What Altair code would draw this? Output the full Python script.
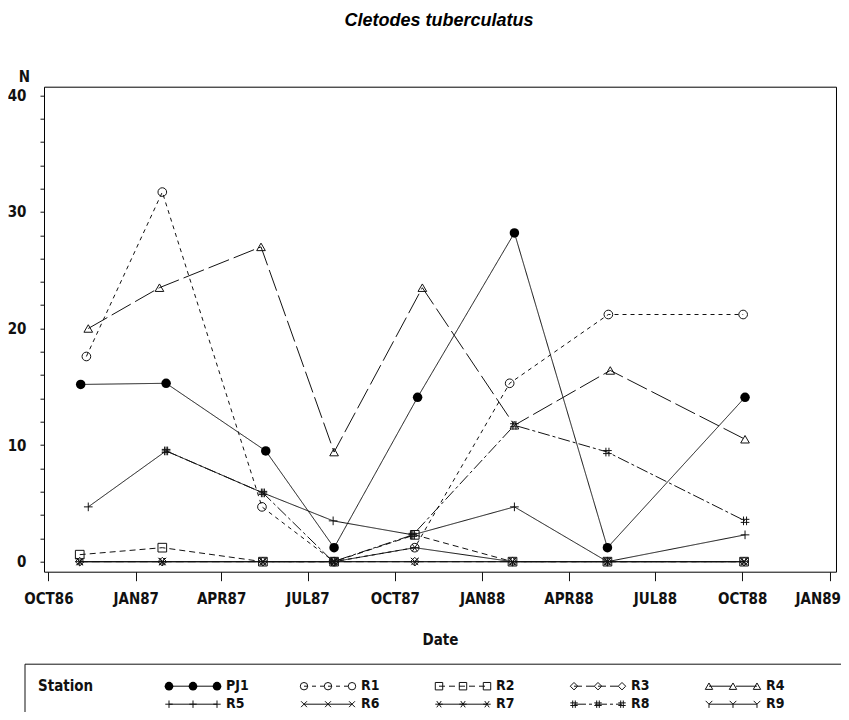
import altair as alt
import pandas as pd

# ---------------- data ----------------
stations = ["PJ1", "R1", "R2", "R3", "R4", "R5", "R6", "R7", "R8", "R9"]

dates_pj1 = ["1986-11-04", "1987-02-02", "1987-05-18", "1987-07-29",
             "1987-10-25", "1988-02-04", "1988-05-12", "1988-10-04"]
dates_r1 = ["1986-11-10", "1987-01-29", "1987-05-14", "1987-07-29",
            "1987-10-22", "1988-01-30", "1988-05-13", "1988-10-02"]
dates_r4 = ["1986-11-12", "1987-01-26", "1987-05-13", "1987-07-29",
            "1987-10-30", "1988-02-04", "1988-05-15", "1988-10-04"]
dates_r5 = ["1986-11-12", "1987-02-02", "1987-05-15", "1987-07-28",
            "1987-10-20", "1988-02-04", "1988-05-12", "1988-10-04"]
dates_low = ["1986-11-03", "1987-01-29", "1987-05-15", "1987-07-29",
             "1987-10-22", "1988-02-02", "1988-05-12", "1988-10-03"]

n_pj1 = [15.2, 15.3, 9.5, 1.2, 14.1, 28.2, 1.2, 14.1]
n_r1 = [17.6, 31.7, 4.7, 0.0, 1.2, 15.3, 21.2, 21.2]
n_r2 = [0.6, 1.2, 0.0, 0.0, 2.3, 0.0, 0.0, 0.0]
n_r3 = [0.0, 0.0, 0.0, 0.0, 0.0, 0.0, 0.0, 0.0]
n_r4 = [20.0, 23.5, 27.0, 9.4, 23.5, 11.7, 16.4, 10.5]
n_r5 = [4.7, 9.5, 5.9, 3.5, 2.3, 4.7, 0.0, 2.3]
n_r6 = [0.0, 0.0, 0.0, 0.0, 0.0, 0.0, 0.0, 0.0]
n_r7 = [0.0, 0.0, 0.0, 0.0, 1.2, 0.0, 0.0, 0.0]
n_r8 = [None, 9.5, 5.9, 0.0, 2.3, 11.7, 9.4, 3.5]
n_r9 = [0.0, 0.0, 0.0, 0.0, 0.0, 0.0, 0.0, 0.0]

series = {
    "PJ1": (dates_pj1, n_pj1),
    "R1": (dates_r1, n_r1),
    "R2": (dates_low, n_r2),
    "R3": (dates_low, n_r3),
    "R4": (dates_r4, n_r4),
    "R5": (dates_r5, n_r5),
    "R6": (dates_low, n_r6),
    "R7": (dates_low, n_r7),
    "R8": (dates_r5, n_r8),
    "R9": (dates_low, n_r9),
}

rows = []
for st in stations:
    ds, vs = series[st]
    for d, v in zip(ds, vs):
        if v is not None:
            rows.append({"station": st, "date": d, "n": v})
df = pd.DataFrame(rows)

tick_dates = [(1986, 10), (1987, 1), (1987, 4), (1987, 7), (1987, 10),
              (1988, 1), (1988, 4), (1988, 7), (1988, 10), (1989, 1)]

# ---------------- styles ----------------
FONT = "Liberation Sans Narrow, DejaVu Sans Condensed, sans-serif"
INK = "#111111"

shapes = [
    "circle", "circle", "square", "diamond", "triangle-up",
    "M-1,0L1,0M0,-1L0,1",
    "M-0.8,-0.8L0.8,0.8M-0.8,0.8L0.8,-0.8",
    "M-1,0L1,0M-0.6,-0.85L0.6,0.85M-0.6,0.85L0.6,-0.85",
    "M-0.35,-1L-0.35,1M0.35,-1L0.35,1M-1,-0.35L1,-0.35M-1,0.35L1,0.35",
    "M0,0L0,1M0,0L-0.9,-0.9M0,0L0.9,-0.9",
]
dashes = [[1, 0], [4, 4], [6, 4], [8, 4], [22, 5],
          [1, 0], [1, 0], [1, 0], [12, 3, 3, 3], [1, 0]]

shape_scale = alt.Scale(domain=stations, range=shapes)
dash_scale = alt.Scale(domain=stations, range=dashes)

W, H = 792, 485

x_enc = alt.X(
    "date:T",
    scale=alt.Scale(
        type="utc", nice=False,
        domain=[alt.DateTime(year=1986, month=9, date=26, hours=8, minutes=30, utc=True),
                alt.DateTime(year=1989, month=1, date=7, hours=20, utc=True)]),
    axis=alt.Axis(
        values=[alt.DateTime(year=y, month=m, date=1, utc=True) for y, m in tick_dates],
        labelExpr="upper(utcFormat(datum.value, '%b%y'))",
        labelAlign={"condition": {"test": "datum.value > utc(1988, 11, 1)", "value": "right"},
                    "value": "center"},
        labelOffset={"condition": {"test": "datum.value > utc(1988, 11, 1)", "value": 11},
                     "value": 0},
        title="Date", titleY=68, titleBaseline="middle",
        tickSize=9, labelPadding=11, domain=False, grid=False),
)
y_enc = alt.Y(
    "n:Q",
    scale=alt.Scale(domain=[-0.86, 40.74], nice=False, zero=False),
    axis=alt.Axis(
        values=list(range(0, 41, 2)),
        labelExpr="datum.value % 10 == 0 ? datum.value : ''",
        title="N", titleAngle=0, titleX=-20, titleY=-10,
        titleAlign="center", titleBaseline="middle",
        tickSize=4, labelPadding=14, domain=False, grid=False),
)

base = alt.Chart(df)
lines = base.mark_line(color=INK, strokeWidth=1).encode(
    x=x_enc, y=y_enc, detail="station:N",
    strokeDash=alt.StrokeDash("station:N", scale=dash_scale, legend=None),
    order="date:T",
)
open_pts = base.transform_filter("datum.station != 'PJ1'").mark_point(
    filled=False, color=INK, strokeWidth=1, size=75, opacity=1
).encode(
    x=x_enc, y=y_enc,
    shape=alt.Shape("station:N", scale=shape_scale, legend=None),
)
pj1_pts = base.transform_filter("datum.station == 'PJ1'").mark_point(
    filled=True, shape="circle", color="#000000", size=90, opacity=1
).encode(x=x_enc, y=y_enc)

main = alt.layer(lines, open_pts, pj1_pts)

# ---------------- legend (drawn) ----------------
X0, DX, DK, TXO = 125, 135, 24, 57
Y0, DY = 599.5, 18

leg_rows = []
for i, st in enumerate(stations):
    for k in range(3):
        leg_rows.append({"station": st, "row": i // 5, "col": i % 5, "k": k})
leg_df = pd.DataFrame(leg_rows)
leg_base = alt.Chart(leg_df).transform_calculate(
    px=f"{X0} + datum.col*{DX} + datum.k*{DK}",
    py=f"{Y0} + datum.row*{DY}",
)
lx = alt.X("px:Q", scale=None, axis=None)
ly = alt.Y("py:Q", scale=None, axis=None)

leg_lines = leg_base.mark_line(color=INK, strokeWidth=1).encode(
    x=lx, y=ly, detail="station:N",
    strokeDash=alt.StrokeDash("station:N", scale=dash_scale, legend=None),
)
leg_open = leg_base.transform_filter("datum.station != 'PJ1'").mark_point(
    filled=False, color=INK, strokeWidth=1, size=55, opacity=1
).encode(x=lx, y=ly, shape=alt.Shape("station:N", scale=shape_scale, legend=None))
leg_pj1 = leg_base.transform_filter("datum.station == 'PJ1'").mark_point(
    filled=True, shape="circle", color="#000000", size=75, opacity=1
).encode(x=lx, y=ly)

txt_df = pd.DataFrame({"station": stations,
                       "row": [i // 5 for i in range(10)],
                       "col": [i % 5 for i in range(10)]})
leg_text = alt.Chart(txt_df).transform_calculate(
    px=f"{X0} + datum.col*{DX} + {TXO}",
    py=f"{Y0} + datum.row*{DY}",
).mark_text(align="left", baseline="middle", font=FONT, fontSize=14,
            fontWeight="bold", color=INK).encode(x=lx, y=ly, text="station:N")

head_df = pd.DataFrame({"label": ["Station"]})
leg_head = alt.Chart(head_df).mark_text(
    align="left", baseline="middle", font=FONT, fontSize=15,
    fontWeight="bold", color=INK
).encode(x=alt.value(-6), y=alt.value(Y0), text="label:N")

box_df = pd.DataFrame({"a": [0]})
box_top = alt.Chart(box_df).mark_rule(color=INK, strokeWidth=1).encode(
    x=alt.value(-19), x2=alt.value(W + 6), y=alt.value(577.5))
box_left = alt.Chart(box_df).mark_rule(color=INK, strokeWidth=1).encode(
    x=alt.value(-19), y=alt.value(577.5), y2=alt.value(670))

title_df = pd.DataFrame({"label": ["Cletodes tuberculatus"]})
title = alt.Chart(title_df).mark_text(
    align="center", baseline="middle", font="Liberation Sans", fontSize=18,
    fontStyle="italic", fontWeight="bold", color="#000000"
).encode(x=alt.value(W / 2 - 1), y=alt.value(-66), text="label:N")

chart = alt.layer(
    main, leg_lines, leg_open, leg_pj1, leg_text, leg_head, box_top, box_left, title
).resolve_scale(
    x="independent", y="independent"
).properties(
    width=W, height=H,
    autosize=alt.AutoSizeParams(type="none"),
    padding={"left": 36, "top": 78.7, "right": 5, "bottom": 140},
).configure_view(
    stroke="#000000", strokeWidth=1
).configure_axis(
    labelFont=FONT, labelFontSize=15, labelFontWeight="bold", labelColor=INK,
    titleFont=FONT, titleFontSize=15, titleFontWeight="bold", titleColor=INK,
    tickColor=INK, tickWidth=1,
)

chart.save("out.html", embed_options={"renderer": "svg", "actions": False})
